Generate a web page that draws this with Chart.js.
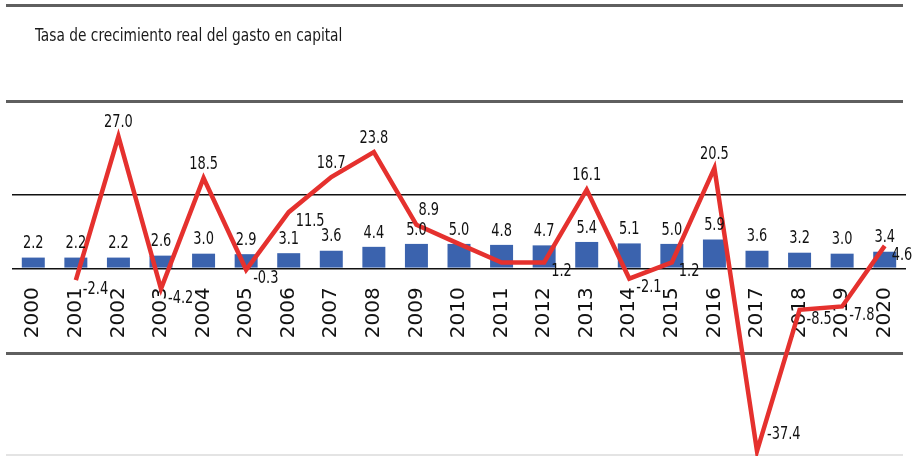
<!DOCTYPE html>
<html>
<head>
<meta charset="utf-8">
<script src="https://cdn.jsdelivr.net/npm/chart.js@4.4.0/dist/chart.umd.min.js"></script>
<style>
  body { margin: 0; background: #fff; }
  #wrap { width: 914px; height: 456px; position: relative; }
</style>
</head>
<body>
<div id="wrap"><canvas id="grafico"></canvas></div>
<script>
const titulo = "Tasa de crecimiento real del gasto en capital";

const anios = ["2000", "2001", "2002", "2003", "2004", "2005", "2006", "2007", "2008", "2009", "2010",
  "2011", "2012", "2013", "2014", "2015", "2016", "2017", "2018", "2019", "2020"];

// gasto en capital (barras)
const gastoCapital = [2.2, 2.2, 2.2, 2.6, 3.0, 2.9, 3.1, 3.6, 4.4, 5.0, 5.0,
  4.8, 4.7, 5.4, 5.1, 5.0, 5.9, 3.6, 3.2, 3.0, 3.4];

// tasa de crecimiento real (linea)
const crecimientoReal = [null, -2.4, 27.0, -4.2, 18.5, -0.3, 11.5, 18.7, 23.8, 8.9, 5.0,
  1.2, 1.2, 16.1, -2.1, 1.2, 20.5, -37.4, -8.5, -7.8, 4.6];

// lineas horizontales del eje y
const lineasGuia = [0, 15];

// donde va cada etiqueta de la linea: t arriba, tr arriba-derecha, r derecha, ru derecha-arriba
const posEtiqueta = ["", "r", "t", "r", "t", "r", "r", "t", "t", "tr", "",
  "", "r", "t", "r", "r", "t", "ru", "r", "r", "r"];

const fuenteAngosta = '"Liberation Sans Narrow", "DejaVu Sans Condensed", "Arial Narrow", sans-serif';

// texto angosto: se comprime en horizontal
function textoAngosto(ctx, txt, x, y, align, base, escala) {
  const w = ctx.measureText(txt).width * escala;
  let x0 = x;
  if (align === "center") x0 = x - w / 2;
  else if (align === "right") x0 = x - w;
  ctx.save();
  ctx.textAlign = "left";
  ctx.textBaseline = base;
  ctx.translate(x0, y);
  ctx.scale(escala, 1);
  ctx.fillText(txt, 0, 0);
  ctx.restore();
}

const marco = {
  id: "marco",
  beforeDraw(chart) {
    const ctx = chart.ctx;
    ctx.save();
    ctx.fillStyle = "#5f5f5f";
    [4, 100, 352].forEach(y => ctx.fillRect(6, y, 897, 3));
    ctx.fillStyle = "#e4e4e4";
    ctx.fillRect(6, 454, 897, 2);
    ctx.fillStyle = "#1a1a1a";
    ctx.font = "18px " + fuenteAngosta;
    textoAngosto(ctx, titulo, 35, 41, "left", "alphabetic", 0.85);
    ctx.restore();
  }
};

const etiquetas = {
  id: "etiquetas",
  afterDatasetsDraw(chart) {
    const ctx = chart.ctx;
    ctx.save();
    ctx.font = "18px " + fuenteAngosta;
    ctx.fillStyle = "#111";
    const k = 0.8;

    chart.getDatasetMeta(0).data.forEach((b, i) => {
      textoAngosto(ctx, gastoCapital[i].toFixed(1), b.x, b.y - 5, "center", "bottom", k);
    });

    chart.getDatasetMeta(1).data.forEach((p, i) => {
      const v = crecimientoReal[i];
      const pos = posEtiqueta[i];
      if (v === null || !pos) return;
      const txt = v.toFixed(1);
      if (pos === "t") {
        textoAngosto(ctx, txt, p.x, p.y - 5, "center", "bottom", k);
      } else if (pos === "tr") {
        textoAngosto(ctx, txt, p.x + 2, p.y - 6, "left", "bottom", k);
      } else if (pos === "r") {
        textoAngosto(ctx, txt, p.x + 7, p.y + 9, "left", "middle", k);
      } else {
        textoAngosto(ctx, txt, p.x + 10, p.y - 17, "left", "middle", k);
      }
    });
    ctx.restore();
  }
};

new Chart(document.getElementById("grafico"), {
  type: "bar",
  data: {
    labels: anios,
    datasets: [
      {
        type: "bar",
        data: gastoCapital,
        backgroundColor: "#3b63ae",
        categoryPercentage: 1,
        barPercentage: 0.54,
        order: 2
      },
      {
        type: "line",
        data: crecimientoReal,
        borderColor: "#e5312e",
        borderWidth: 4.5,
        borderJoinStyle: "miter",
        pointRadius: 0,
        tension: 0,
        clip: false,
        order: 1
      }
    ]
  },
  options: {
    responsive: true,
    maintainAspectRatio: false,
    animation: false,
    layout: { padding: { left: 12, right: 8, top: 112, bottom: 3 } },
    plugins: {
      legend: { display: false },
      tooltip: { enabled: false }
    },
    scales: {
      x: {
        position: { y: 0 },
        grid: { display: false, drawTicks: false },
        border: { display: false },
        ticks: {
          minRotation: 90,
          maxRotation: 90,
          autoSkip: false,
          padding: 19,
          color: "#111",
          font: { family: "DejaVu Sans", size: 20 }
        },
        afterFit(s) {
          s.height = 0;
          s.paddingLeft = 0;
          s.paddingRight = 0;
        }
      },
      y: {
        min: -37.8,
        max: 32,
        afterBuildTicks(s) { s.ticks = lineasGuia.map(v => ({ value: v })); },
        grid: { color: "#111", lineWidth: 1.5, drawTicks: false },
        border: { display: false },
        ticks: { display: false }
      }
    }
  },
  plugins: [marco, etiquetas]
});
</script>
</body>
</html>
